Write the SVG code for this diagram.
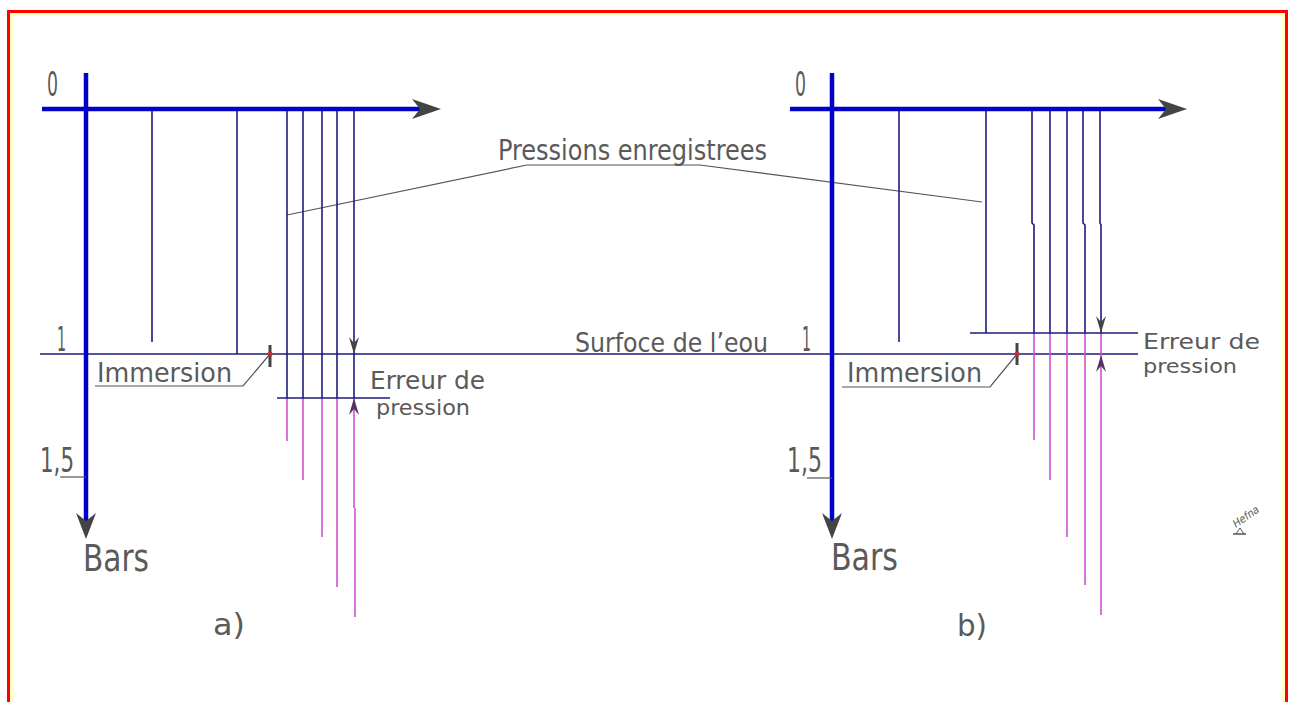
<svg xmlns="http://www.w3.org/2000/svg" width="1289" height="702" viewBox="0 0 1289 702">
<style>
.t{font-family:"Liberation Sans Narrow","DejaVu Sans Condensed","Liberation Sans",sans-serif;fill:#5a5a5a;}
.ax{stroke:#0000c8;stroke-width:4.5;fill:none;}
.nv{stroke:#1c1c7c;stroke-width:1.6;fill:none;}
.mg{stroke:#d050d0;stroke-width:1.6;fill:none;}
.ld{stroke:#555;stroke-width:1.2;fill:none;}
.ah{fill:#444;}
.ahp{fill:#553366;}
</style>
<rect x="0" y="0" width="1289" height="702" fill="#ffffff"/>
<path d="M11.5,702 V14.5 H1283.5 V702" fill="none" stroke="#ffffc0" stroke-width="3"/>
<path d="M8.5,702 V11.5 H1286.5 V702" fill="none" stroke="#ff0000" stroke-width="3"/>

<g id="water-surface">
<line class="nv" x1="40" y1="354" x2="1138" y2="354"/>
<text class="t" x="575" y="352" font-size="27" textLength="193" lengthAdjust="spacingAndGlyphs">Surfoce de l’eou</text>
</g>

<g id="pressions-label">
<path class="ld" d="M287,215 L527,165 L700,165 L982,202"/>
<text class="t" x="498" y="160" font-size="28" textLength="269" lengthAdjust="spacingAndGlyphs">Pressions enregistrees</text>
</g>

<g id="diagram-a">
<line class="nv" x1="152" y1="109" x2="152" y2="342"/>
<line class="nv" x1="237" y1="109" x2="237" y2="354"/>
<line class="nv" x1="287" y1="109" x2="287" y2="398"/>
<line class="nv" x1="303" y1="109" x2="303" y2="398"/>
<line class="nv" x1="322" y1="109" x2="322" y2="398"/>
<line class="nv" x1="337" y1="109" x2="337" y2="398"/>
<line class="nv" x1="354" y1="109" x2="354" y2="398"/>
<line class="mg" x1="287" y1="398" x2="287" y2="441"/>
<line class="mg" x1="303" y1="398" x2="303" y2="480"/>
<line class="mg" x1="322" y1="398" x2="322" y2="537"/>
<line class="mg" x1="337" y1="398" x2="337" y2="587"/>
<path class="mg" d="M354,398 V508 M355,508 V617"/>
<line class="nv" x1="277" y1="398" x2="390" y2="398"/>
<path class="ah" d="M354,354 L349,337 L354,343 L359,337 Z"/>
<path class="ahp" d="M354,398 L349,415 L354,409 L359,415 Z"/>
<line class="ax" x1="42" y1="109" x2="428" y2="109"/>
<line class="ax" x1="86" y1="73" x2="86" y2="528"/>
<path class="ah" d="M441,109 L412,99 L420,109 L412,119 Z"/>
<path class="ah" d="M86,539 L76,513 L86,521 L96,513 Z"/>
<path class="ld" d="M95,386 H243 L270,354"/>
<line x1="270" y1="345" x2="270" y2="367" stroke="#444" stroke-width="3"/>
<circle cx="270" cy="354" r="2.5" fill="#c03030"/>
<line class="ld" x1="60" y1="477" x2="86" y2="477"/>
<text class="t" x="47" y="96" font-size="33" textLength="11" lengthAdjust="spacingAndGlyphs">0</text>
<text class="t" x="57" y="351" font-size="33" textLength="9" lengthAdjust="spacingAndGlyphs">1</text>
<text class="t" x="40" y="472" font-size="33" textLength="34" lengthAdjust="spacingAndGlyphs">1,5</text>
<text class="t" x="83" y="571" font-size="38" textLength="66" lengthAdjust="spacingAndGlyphs">Bars</text>
<text class="t" x="97" y="382" font-size="27" textLength="135" lengthAdjust="spacingAndGlyphs">Immersion</text>
<text class="t" x="370" y="389" font-size="25" textLength="115" lengthAdjust="spacingAndGlyphs">Erreur de</text>
<text class="t" x="376" y="415" font-size="22" textLength="94" lengthAdjust="spacingAndGlyphs">pression</text>
<text class="t" x="213" y="635" font-size="30" textLength="32" lengthAdjust="spacingAndGlyphs">a)</text>
</g>

<g id="diagram-b">
<line class="nv" x1="899" y1="109" x2="899" y2="342"/>
<line class="nv" x1="986" y1="109" x2="986" y2="333"/>
<path class="nv" d="M1032,109 V223 L1034,225 V333"/>
<line class="nv" x1="1050" y1="109" x2="1050" y2="333"/>
<line class="nv" x1="1067" y1="109" x2="1067" y2="333"/>
<path class="nv" d="M1083,109 V223 L1085,225 V333"/>
<path class="nv" d="M1100,109 V223 L1101,225 V333"/>
<line class="mg" x1="1034" y1="333" x2="1034" y2="440"/>
<line class="mg" x1="1050" y1="333" x2="1050" y2="480"/>
<line class="mg" x1="1067" y1="333" x2="1067" y2="537"/>
<line class="mg" x1="1085" y1="333" x2="1085" y2="585"/>
<line class="mg" x1="1101" y1="333" x2="1101" y2="615"/>
<line class="nv" x1="970" y1="333" x2="1138" y2="333"/>
<path class="ah" d="M1101,333 L1096,316 L1101,322 L1106,316 Z"/>
<path class="ahp" d="M1101,355 L1096,372 L1101,366 L1106,372 Z"/>
<line class="ax" x1="790" y1="109" x2="1175" y2="109"/>
<line class="ax" x1="832" y1="73" x2="832" y2="528"/>
<path class="ah" d="M1187,109 L1158,99 L1166,109 L1158,119 Z"/>
<path class="ah" d="M832,539 L822,513 L832,521 L842,513 Z"/>
<path class="ld" d="M842,387 H990 L1017,354"/>
<line x1="1017" y1="343" x2="1017" y2="365" stroke="#444" stroke-width="3"/>
<circle cx="1017" cy="354" r="2.5" fill="#c03030"/>
<line class="ld" x1="807" y1="478" x2="832" y2="478"/>
<text class="t" x="795" y="96" font-size="33" textLength="11" lengthAdjust="spacingAndGlyphs">0</text>
<text class="t" x="802" y="351" font-size="33" textLength="9" lengthAdjust="spacingAndGlyphs">1</text>
<text class="t" x="787" y="472" font-size="33" textLength="35" lengthAdjust="spacingAndGlyphs">1,5</text>
<text class="t" x="831" y="570" font-size="38" textLength="67" lengthAdjust="spacingAndGlyphs">Bars</text>
<text class="t" x="847" y="382" font-size="27" textLength="135" lengthAdjust="spacingAndGlyphs">Immersion</text>
<text class="t" x="1143" y="349" font-size="22" textLength="117" lengthAdjust="spacingAndGlyphs">Erreur de</text>
<text class="t" x="1143" y="373" font-size="20" textLength="94" lengthAdjust="spacingAndGlyphs">pression</text>
<text class="t" x="957" y="636" font-size="30" textLength="30" lengthAdjust="spacingAndGlyphs">b)</text>
</g>

<g id="signature">
<line x1="1233" y1="534" x2="1246" y2="534" stroke="#555" stroke-width="1.5"/>
<path d="M1236,534 L1240,528 L1244,534" fill="none" stroke="#555" stroke-width="1"/>
<text class="t" x="1236" y="528" font-size="11" font-style="italic" transform="rotate(-35 1236 528)">Hefna</text>
</g>
</svg>
